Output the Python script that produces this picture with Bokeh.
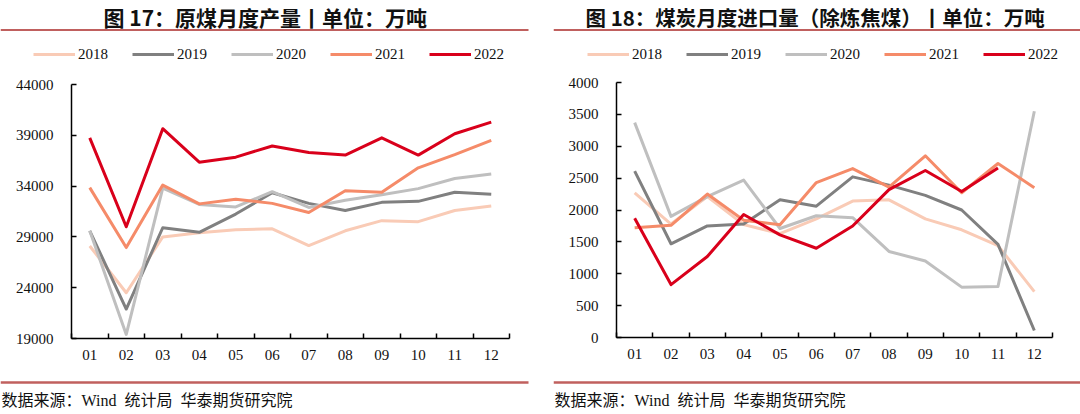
from bokeh.plotting import figure
from bokeh.models import FixedTicker, Legend, LegendItem, Range1d
from bokeh.layouts import row, column
from bokeh.embed import file_html
from bokeh.resources import INLINE
from bokeh.core.properties import value

# ---------------- data ----------------
months = ["01", "02", "03", "04", "05", "06", "07", "08", "09", "10", "11", "12"]
years = ["2018", "2019", "2020", "2021", "2022"]

prod_2018 = [28100, 23500, 29000, 29400, 29700, 29800, 28150, 29600, 30600, 30500, 31600, 32050]
prod_2019 = [29600, 21900, 29900, 29450, 31250, 33350, 32300, 31600, 32400, 32500, 33400, 33200]
prod_2020 = [29600, 19400, 33800, 32200, 31950, 33450, 31900, 32600, 33150, 33750, 34750, 35200]
prod_2021 = [33850, 27950, 34100, 32250, 32700, 32300, 31400, 33550, 33400, 35800, 37100, 38500]
prod_2022 = [38750, 30000, 39650, 36350, 36850, 37950, 37300, 37050, 38750, 37050, 39150, 40300]

imp_2018 = [2270, 1780, 2210, 1770, 1630, 1860, 2140, 2160, 1860, 1690, 1440, 720]
imp_2019 = [2610, 1470, 1750, 1780, 2160, 2060, 2520, 2390, 2230, 2000, 1460, 110]
imp_2020 = [3370, 1900, 2210, 2470, 1710, 1910, 1880, 1350, 1200, 790, 800, 3550]
imp_2021 = [1720, 1760, 2250, 1840, 1770, 2430, 2650, 2360, 2850, 2270, 2730, 2350]
imp_2022 = [1870, 830, 1270, 1930, 1610, 1400, 1750, 2320, 2620, 2290, 2660]

prod_ticks = [19000, 24000, 29000, 34000, 39000, 44000]
imp_ticks = [0, 500, 1000, 1500, 2000, 2500, 3000, 3500, 4000]

title_left = "图 17：原煤月度产量丨单位：万吨"
title_right = "图 18：煤炭月度进口量（除炼焦煤）丨单位：万吨"
source_text = "数据来源：Wind\u00a0\u00a0统计局\u00a0\u00a0华泰期货研究院"

colors = ["#F9CBB6", "#808080", "#BFBFBF", "#F58B69", "#D9001B"]
RULE = "#C0605E"
SERIF = "Liberation Serif"
CJK = "Noto Sans CJK SC"
HEAD_H = 68
NAN = float("nan")


def blank(width, height):
    p = figure(width=width, height=height, x_range=Range1d(0, width), y_range=Range1d(height, 0),
               x_axis_type=None, y_axis_type=None, output_backend="svg", toolbar_location=None,
               min_border=0, min_border_left=0, min_border_right=0, min_border_top=0, min_border_bottom=0)
    p.outline_line_color = None
    p.grid.visible = False
    return p


def header(width, title, tx, fsize, rule_end, lx):
    p = blank(width, HEAD_H)
    p.segment(x0=[0], y0=[29.5], x1=[rule_end], y1=[29.5], line_color=RULE, line_width=2)
    p.text(x=[tx], y=[16], text=[title], text_align="left", text_baseline="middle",
           text_font=value(CJK), text_font_style="bold", text_font_size=fsize, text_color="#111111")
    # legend keys, styled like the series lines of the chart below
    items = []
    for yr, col in zip(years, colors):
        r = p.line(x=[NAN], y=[NAN], line_color=col, line_width=3)
        items.append(LegendItem(label=yr, renderers=[r]))
    leg = Legend(items=items, orientation="horizontal", location=(lx, HEAD_H - 63), glyph_width=42,
                 glyph_height=18, label_height=18, label_width=30, label_standoff=3, spacing=24,
                 padding=0, margin=0, border_line_color=None, background_fill_alpha=0,
                 label_text_font=SERIF, label_text_font_size="15px", label_text_color="#111111")
    p.add_layout(leg)
    return p


def footer(width, rule_end):
    p = blank(width, 38)
    p.segment(x0=[0], y0=[6], x1=[rule_end], y1=[6], line_color=RULE, line_width=2.5)
    p.text(x=[1], y=[24], text=[source_text], text_align="left", text_baseline="middle",
           text_font=value(SERIF + ", " + CJK), text_font_size="16px", text_color="#111111")
    return p


def main(width, height, series, ticks, bl, br, bt, bb):
    p = figure(width=width, height=height, x_range=Range1d(0.5, 12.5),
               y_range=Range1d(ticks[0], ticks[-1]), output_backend="svg", toolbar_location=None,
               min_border_left=bl, min_border_right=br, min_border_top=bt, min_border_bottom=bb)
    p.outline_line_color = None
    p.grid.visible = False
    for vals, col in zip(series, colors):
        xs = list(range(1, len(vals) + 1))
        p.line(xs, vals, line_color=col, line_width=3, line_join="round")

    xa = p.xaxis[0]
    xa.ticker = FixedTicker(ticks=list(range(1, 13)), minor_ticks=[i + 0.5 for i in range(13)])
    xa.major_label_overrides = {i + 1: m for i, m in enumerate(months)}
    xa.major_tick_in = 0
    xa.major_tick_out = 0
    xa.minor_tick_in = 5
    xa.minor_tick_out = 0
    xa.minor_tick_line_color = "black"
    xa.minor_tick_line_width = 1.5
    xa.axis_line_width = 1.5
    xa.axis_line_color = "black"
    xa.major_label_standoff = 11
    xa.major_label_text_font = SERIF
    xa.major_label_text_font_size = "15px"
    xa.major_label_text_color = "#111111"

    ya = p.yaxis[0]
    ya.ticker = FixedTicker(ticks=ticks, minor_ticks=[])
    ya.major_tick_in = 5
    ya.major_tick_out = 0
    ya.major_tick_line_color = "black"
    ya.major_tick_line_width = 1.5
    ya.minor_tick_line_color = None
    ya.axis_line_width = 1.5
    ya.axis_line_color = "black"
    ya.major_label_standoff = 18
    ya.major_label_text_font = SERIF
    ya.major_label_text_font_size = "15px"
    ya.major_label_text_color = "#111111"
    return p


W1, W2 = 553, 527
MAIN_H = 376 - HEAD_H
left = column(
    row(header(W1, title_left, 103, "21px", 528, 33)),
    main(W1, MAIN_H, [prod_2018, prod_2019, prod_2020, prod_2021, prod_2022], prod_ticks,
         71, 44, 84 - HEAD_H, 38),
    row(footer(W1, 528)),
)
right = column(
    row(header(W2, title_right, 32, "20.5px", W2, 34)),
    main(W2, MAIN_H, [imp_2018, imp_2019, imp_2020, imp_2021, imp_2022], imp_ticks,
         63, 28, 82 - HEAD_H, 39),
    row(footer(W2, W2)),
)
layout = row(left, right)

open("out.html", "w").write(file_html(layout, INLINE))
